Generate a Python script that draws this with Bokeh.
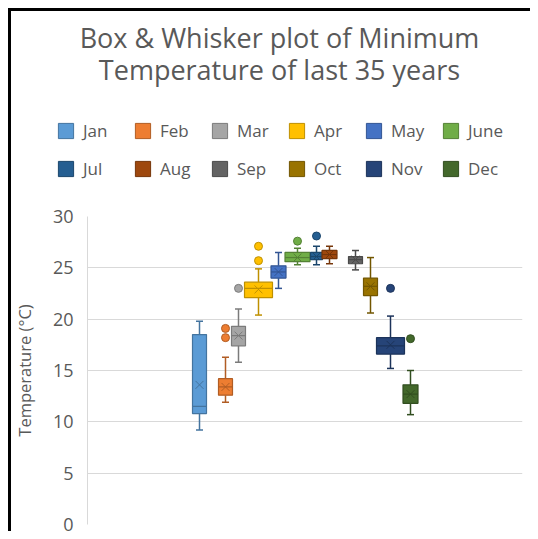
from bokeh.plotting import figure
from bokeh.models import (Range1d, ColumnDataSource, Legend, LegendItem, Label,
                          FixedTicker)
from bokeh.embed import file_html
from bokeh.resources import INLINE

# ---------------- data ----------------
months = ["Jan", "Feb", "Mar", "Apr", "May", "June",
          "Jul", "Aug", "Sep", "Oct", "Nov", "Dec"]
whisker_low = [9.2, 11.9, 15.8, 20.4, 23.0, 25.3, 25.3, 25.4, 24.8, 20.6, 15.2, 10.7]
q1 = [10.8, 12.6, 17.4, 22.1, 24.0, 25.6, 25.8, 25.9, 25.4, 22.3, 16.6, 11.8]
median = [11.5, 13.4, 18.4, 23.0, 24.6, 26.0, 26.1, 26.3, 25.8, 23.2, 17.4, 12.7]
q3 = [18.5, 14.2, 19.3, 23.6, 25.2, 26.5, 26.5, 26.7, 26.1, 24.0, 18.2, 13.6]
whisker_high = [19.8, 16.3, 21.0, 24.9, 26.5, 26.9, 27.1, 27.1, 26.7, 26.0, 20.3, 15.0]
mean = [13.6, 13.4, 18.4, 22.9, 24.6, 26.0, 26.1, 26.3, 25.8, 23.2, 17.5, 12.7]
outliers = [[], [18.2, 19.1], [23.0], [25.7, 27.1], [], [27.6], [28.1], [], [], [], [23.0], [18.1]]
y_ticks = [0, 5, 10, 15, 20, 25, 30]
title_lines = ["Box & Whisker plot of Minimum", "Temperature of last 35 years"]
y_label = "Temperature (°C)"

# ---------------- layout / style ----------------
slot_x = [199, 225, 238, 258, 278, 297, 316, 329, 355, 370, 390, 410]
slot_w = [14, 14, 14, 28, 15, 25, 12, 15, 14, 14, 28, 15]
colors = ["#5B9BD5", "#ED7D31", "#A5A5A5", "#FFC000", "#4472C4", "#70AD47",
          "#255E91", "#9E480E", "#636363", "#997300", "#264478", "#43682B"]


def darker(hexcol, f=0.75):
    r, g, b = (int(hexcol[i:i + 2], 16) for i in (1, 3, 5))
    return "#%02x%02x%02x" % (int(r * f), int(g * f), int(b * f))


TEXT = "#595959"
FONT = "Open Sans"
W = 530
HEAD_H = 196
BAR = "linear-gradient(black, black)"
NAN = float("nan")

# ---------------- header: titles + legend ----------------
head = figure(width=W, height=HEAD_H, output_backend="svg", toolbar_location=None,
              title_location=None, x_range=Range1d(0, W), y_range=Range1d(HEAD_H, 0),
              min_border_left=0, min_border_right=0, min_border_top=0,
              min_border_bottom=0)
head.axis.visible = False
head.grid.visible = False
head.outline_line_color = None
head.border_fill_alpha = 0
head.background_fill_alpha = 0
head.styles = {"background": f"{BAR} 8px 8px / 3px 100% no-repeat, "
                             f"{BAR} 8px 8px / 100% 3px no-repeat, white"}

for txt, yb in zip(title_lines, (37, 69)):
    head.add_layout(Label(x=279, y=yb, text=txt, text_align="center",
                          text_baseline="alphabetic", text_font=FONT,
                          text_font_size="27px", text_color=TEXT))

swatches = []
for i, m in enumerate(months):
    # legend swatch only: a glyph without a drawable point
    sw = head.quad(left=[NAN], right=[NAN], top=[NAN], bottom=[NAN],
                   fill_color=colors[i], line_color=darker(colors[i]), line_width=1)
    swatches.append(LegendItem(label=m, renderers=[sw]))

for row, vy in ((0, 54), (1, 16)):
    leg = Legend(items=swatches[row * 6:(row + 1) * 6], location=(56, vy),
                 orientation="horizontal", glyph_width=19, glyph_height=19,
                 label_standoff=8, label_width=44, label_height=19, spacing=6,
                 padding=0, margin=0, border_line_color=None,
                 background_fill_alpha=0, label_text_font=FONT,
                 label_text_font_size="17px", label_text_color=TEXT)
    head.add_layout(leg, "center")

# ---------------- main box plot ----------------
p = figure(width=W, height=531 - HEAD_H, output_backend="svg", toolbar_location=None,
           title_location=None,
           x_range=Range1d(87, 522), y_range=Range1d(0, 30),
           min_border_left=87, min_border_right=8, min_border_top=216 - HEAD_H,
           min_border_bottom=7)
p.border_fill_alpha = 0
p.background_fill_color = "white"
p.styles = {"background": f"{BAR} 8px 0px / 3px 100% no-repeat, white"}
p.outline_line_color = None
p.xaxis.visible = False
p.xgrid.grid_line_color = None
p.ygrid.grid_line_color = "#D9D9D9"
p.yaxis.ticker = FixedTicker(ticks=y_ticks)
p.yaxis.axis_line_color = "#D9D9D9"
p.yaxis.major_tick_line_color = None
p.yaxis.minor_tick_line_color = None
p.yaxis.major_label_text_font = FONT
p.yaxis.major_label_text_font_size = "18px"
p.yaxis.major_label_text_color = TEXT
p.yaxis.major_label_standoff = 8
p.yaxis.axis_label = y_label
p.yaxis.axis_label_text_font = FONT
p.yaxis.axis_label_text_font_size = "16.5px"
p.yaxis.axis_label_text_font_style = "normal"
p.yaxis.axis_label_text_color = TEXT
p.yaxis.axis_label_standoff = 14

for i, m in enumerate(months):
    c = colors[i]
    d = darker(c)
    x = slot_x[i]
    hw = slot_w[i] / 2
    cap = 3.5
    src = ColumnDataSource(dict(
        left=[x - hw], right=[x + hw], bottom=[q1[i]], top=[q3[i]]))
    p.segment(x0=[x, x], y0=[whisker_low[i], q3[i]], x1=[x, x],
              y1=[q1[i], whisker_high[i]], line_color=d, line_width=1.5)
    p.segment(x0=[x - cap, x - cap], y0=[whisker_low[i], whisker_high[i]],
              x1=[x + cap, x + cap], y1=[whisker_low[i], whisker_high[i]],
              line_color=d, line_width=1.5)
    p.quad(left="left", right="right", bottom="bottom", top="top", source=src,
           fill_color=c, line_color=d, line_width=1.2)
    p.segment(x0=[x - hw], y0=[median[i]], x1=[x + hw], y1=[median[i]],
              line_color=d, line_width=1.2)
    p.scatter(x=[x], y=[mean[i]], marker="x", size=min(slot_w[i], 14) * 0.8,
              line_color=d, line_width=1)
    if outliers[i]:
        p.scatter(x=[x] * len(outliers[i]), y=outliers[i], marker="circle", size=8,
                  fill_color=c, line_color=d, line_width=1)

open("out.html", "w").write(file_html([head, p], INLINE))
